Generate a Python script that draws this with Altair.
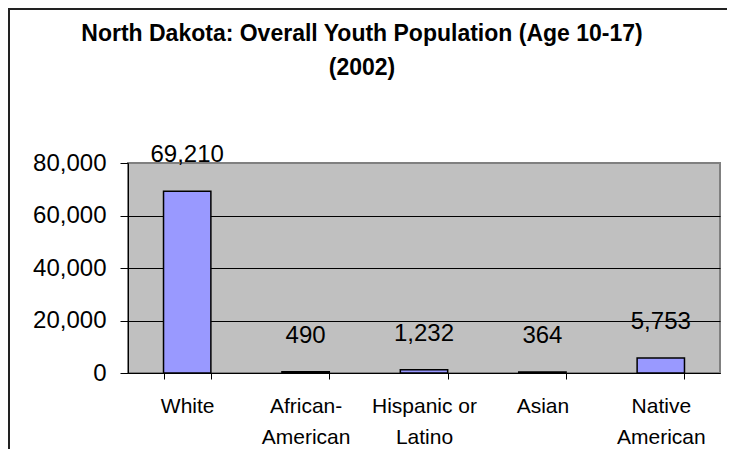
import altair as alt
import pandas as pd

# Data
categories = ["White", "African-|American", "Hispanic or|Latino", "Asian", "Native|American"]
youth_population = [69210, 490, 1232, 364, 5753]
y_ticks = [0, 20000, 40000, 60000, 80000]
title_lines = ["North Dakota: Overall Youth Population (Age 10-17)", "(2002)"]

df = pd.DataFrame({"category": categories, "population": youth_population})

FONT = "Liberation Sans"

x_enc = alt.X(
    "category:N",
    sort=categories,
    scale=alt.Scale(paddingInner=0.6, paddingOuter=0.3),
    axis=alt.Axis(
        title=None,
        labelAngle=0,
        labelExpr="isValid(datum.value) ? split(datum.value, '|') : ''",
        labelFont=FONT,
        labelFontSize=21,
        labelColor="black",
        labelLineHeight=31,
        labelPadding=16,
        tickBand="extent",
        tickSize=6,
        tickColor="black",
        tickWidth=1,
        domainColor="black",
        domainWidth=1,
        grid=False,
    ),
)

y_enc = alt.Y(
    "population:Q",
    scale=alt.Scale(domain=[0, 80000], nice=False),
    axis=alt.Axis(
        title=None,
        values=y_ticks,
        format=",d",
        labelFont=FONT,
        labelFontSize=24,
        labelColor="black",
        labelPadding=14,
        tickSize=8,
        tickColor="black",
        tickWidth=1,
        domainColor="black",
        domainWidth=1,
        grid=True,
        gridColor={"condition": {"test": "datum.value >= 80000", "value": "#808080"}, "value": "black"},
        gridWidth=1,
    ),
)

base = alt.Chart(df)

bars = base.mark_bar(color="#9999FF", stroke="black", strokeWidth=1.5).encode(x=x_enc, y=y_enc)

labels = base.mark_text(
    baseline="alphabetic", dy=-29, font=FONT, fontSize=24, color="black"
).encode(
    x=alt.X("category:N", sort=categories),
    y="population:Q",
    text=alt.Text("population:Q", format=",d"),
)

title = alt.Chart(pd.DataFrame({"t": [0]})).mark_text(
    font=FONT, fontSize=23, fontWeight="bold", color="black",
    align="center", baseline="alphabetic", lineHeight=34,
).encode(
    x=alt.value(234), y=alt.value(-122), text=alt.value(title_lines)
)

border_left = alt.Chart(pd.DataFrame({"t": [0]})).mark_rule(color="#222222", strokeWidth=2).encode(
    x=alt.value(-119), y=alt.value(-155), y2=alt.value(290)
)
border_top = alt.Chart(pd.DataFrame({"t": [0]})).mark_rule(color="#222222", strokeWidth=2).encode(
    x=alt.value(-120), x2=alt.value(600), y=alt.value(-154)
)

chart = alt.layer(bars, labels, title, border_left, border_top).properties(
    width=592,
    height=210,
    autosize=alt.AutoSizeParams(type="none"),
    padding={"left": 120, "top": 155, "right": 7, "bottom": 76},
    background="white",
).configure_view(
    fill="#C0C0C0", stroke="#808080", strokeWidth=2
)

chart.save("out.html", embed_options={"renderer": "svg", "actions": False})
